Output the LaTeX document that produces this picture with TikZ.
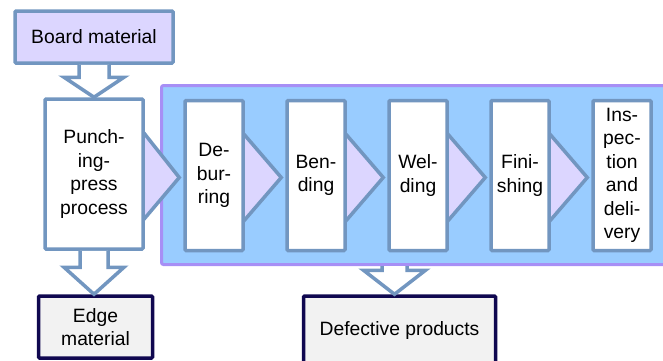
\documentclass[tikz,border=0pt]{standalone}
\usepackage{fontspec}
\setmainfont{Liberation Sans}
\usetikzlibrary{positioning,backgrounds}

\definecolor{steel}{RGB}{114,150,192}
\definecolor{lilac}{RGB}{220,214,255}
\definecolor{bandblue}{RGB}{153,204,255}
\definecolor{bandpurple}{RGB}{167,143,245}
\definecolor{navy}{RGB}{16,8,80}
\definecolor{palegray}{RGB}{242,242,242}

\tikzset{
  stage/.style={draw=steel, line width=3.5pt, fill=white, inner sep=1pt, align=center,
    minimum width=58pt, minimum height=150pt, rounded corners=1pt},
  source/.style={draw=steel, line width=3.5pt, fill=lilac, minimum width=158pt,
    minimum height=52pt, rounded corners=1pt},
  waste/.style={draw=navy, line width=3.5pt, fill=palegray, align=center, rounded corners=1pt},
  band/.style={draw=bandpurple, line width=3pt, fill=bandblue, rounded corners=2pt},
  chev/.style={draw=steel, line width=3.5pt, fill=lilac},
  blockarr/.style={draw=steel, line width=3.5pt, fill=white}
}

\begin{document}
\begin{tikzpicture}[x=1pt,y=-1pt,node distance=102pt,on grid,
    font=\fontsize{19.3pt}{23.5pt}\selectfont]
   \clip (0,0) rectangle (663,360);
   \node[source] (board) at (94,37) {Board material};
   \node[stage, minimum width=98pt] (punch) at (94,174) {Punch-\\ing-\\press\\process};
   \node[stage] (debur) at (214,175.5) {De-\\bur-\\ring};
   \node[stage] (bend) [right=of debur] {Ben-\\ding};
   \node[stage] (weld) [right=of bend] {Wel-\\ding};
   \node[stage] (finish) [right=of weld] {Fini-\\shing};
   \node[stage] (inspect) [right=of finish] {Ins-\\pec-\\tion\\and\\deli-\\very};
   \node[waste, minimum width=114pt, minimum height=62pt] (edge) at (95.5,327) {Edge\\material};
   \node[waste, minimum width=192pt, minimum height=68pt] (defect) at (399.5,330) {Defective products};

   \begin{pgfonlayer}{background}
     \begin{scope}
       \clip (0,0) rectangle (663,360);
       \node[band, minimum width=558.5pt, minimum height=179pt] (stages) at (440.75,175) {};
       \foreach \a/\b in {punch/debur, debur/bend, bend/weld, weld/finish, finish/inspect}
         \draw[chev] ([xshift=-4,yshift=45]\a.east) -- ([xshift=-4,yshift=-2]\b.west)
           -- ([xshift=-4,yshift=-49]\a.east) -- cycle;
     \end{scope}
   \end{pgfonlayer}

   \coordinate (edgetip) at (punch.south |- edge.north);
   \coordinate (defecttip) at ([xshift=-5]defect.north);
   \coordinate (bandfoot) at (defecttip |- stages.south);

   \draw[blockarr] ([xshift=-15]board.south) |- ([xshift=-30,yshift=20]punch.north)
     -- (punch.north) -- ([xshift=30,yshift=20]punch.north) -| ([xshift=15]board.south);
   \draw[blockarr] ([xshift=-14]punch.south) |- ([xshift=-30,yshift=27]edgetip)
     -- (edgetip) -- ([xshift=30,yshift=27]edgetip) -| ([xshift=14]punch.south);
   \draw[blockarr] ([xshift=-12.5]bandfoot) |- ([xshift=-31,yshift=24]defecttip)
     -- (defecttip) -- ([xshift=31,yshift=24]defecttip) -| ([xshift=12.5]bandfoot);
\end{tikzpicture}
\end{document}
